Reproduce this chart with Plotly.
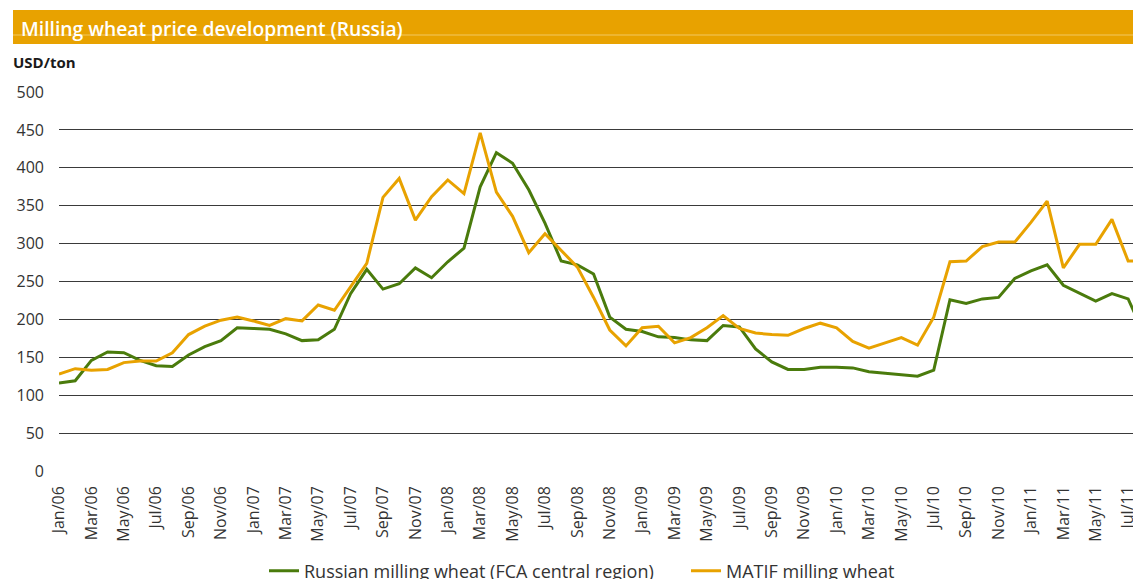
import plotly.graph_objects as go

months = ["Jan/06","Feb/06","Mar/06","Apr/06","May/06","Jun/06","Jul/06","Aug/06","Sep/06","Oct/06","Nov/06","Dec/06",
          "Jan/07","Feb/07","Mar/07","Apr/07","May/07","Jun/07","Jul/07","Aug/07","Sep/07","Oct/07","Nov/07","Dec/07",
          "Jan/08","Feb/08","Mar/08","Apr/08","May/08","Jun/08","Jul/08","Aug/08","Sep/08","Oct/08","Nov/08","Dec/08",
          "Jan/09","Feb/09","Mar/09","Apr/09","May/09","Jun/09","Jul/09","Aug/09","Sep/09","Oct/09","Nov/09","Dec/09",
          "Jan/10","Feb/10","Mar/10","Apr/10","May/10","Jun/10","Jul/10","Aug/10","Sep/10","Oct/10","Nov/10","Dec/10",
          "Jan/11","Feb/11","Mar/11","Apr/11","May/11","Jun/11","Jul/11","Aug/11"]

russian = [116,119,146,157,156,146,139,138,153,164,172,189,
           188,187,181,172,173,187,234,266,240,247,268,255,
           276,294,375,420,406,371,327,277,272,260,203,187,
           184,177,176,173,172,192,190,161,144,134,134,137,
           137,136,131,129,127,125,133,226,221,227,229,254,
           264,272,245,234,224,234,227,180]

matif = [128,135,133,134,143,145,145,156,180,191,199,203,
         198,192,201,198,219,212,243,274,361,386,331,362,
         384,366,446,368,336,288,313,291,269,229,186,165,
         189,191,169,176,189,205,188,182,180,179,188,195,
         189,171,162,169,176,166,203,276,277,296,302,302,
         328,356,268,299,299,332,277,277]

tick_labels = months[0:67:2]

y_ticks = [0, 50, 100, 150, 200, 250, 300, 350, 400, 450, 500]

GREEN = "#4a7b0c"
ORANGE = "#e8a200"
FONT = "Open Sans"

fig = go.Figure()
fig.add_trace(go.Scatter(x=months, y=russian, mode="lines",
                         name="Russian milling wheat (FCA central region)",
                         line=dict(color=GREEN, width=3)))
fig.add_trace(go.Scatter(x=months, y=matif, mode="lines",
                         name="MATIF milling wheat",
                         line=dict(color=ORANGE, width=3)))

W, H = 1133, 579
L, R, T, B = 59, 0, 92, 108
pw, ph = W - L - R, H - T - B

def px(x):
    return (x - L) / pw

def py(y):
    return (H - B - y) / ph

fig.update_layout(
    width=W, height=H,
    margin=dict(l=L, r=R, t=T, b=B, pad=0, autoexpand=False),
    paper_bgcolor="white", plot_bgcolor="white",
    font=dict(family=FONT, size=16, color="#333333"),
    showlegend=True,
    legend=dict(orientation="h", x=px(264), xanchor="left", y=py(571), yanchor="middle",
                font=dict(family=FONT, size=18, color="#333333"),
                itemwidth=30, entrywidth=377, entrywidthmode="pixels",
                tracegroupgap=0, bgcolor="rgba(0,0,0,0)"),
    xaxis=dict(type="category", categoryorder="array", categoryarray=months,
               range=[0, 66.3], tickmode="array", tickvals=tick_labels, ticktext=tick_labels,
               tickangle=-90, showgrid=False, zeroline=False, showline=False, automargin=False,
               ticks="", ticklabelstandoff=11,
               tickfont=dict(family=FONT, size=16, color="#333333")),
    yaxis=dict(range=[0, 500], tickmode="array", tickvals=y_ticks, automargin=False,
               showgrid=True, gridcolor="#3a3a3a", gridwidth=1.2, zeroline=False,
               showline=False, ticks="", ticklabelstandoff=14,
               tickfont=dict(family=FONT, size=16, color="#333333")),
    shapes=[
        dict(type="rect", xref="paper", yref="paper",
             x0=px(13), x1=px(1140), y0=py(44), y1=py(10),
             fillcolor=ORANGE, line=dict(width=0), layer="below"),
        dict(type="line", xref="paper", yref="paper",
             x0=px(13), x1=px(1140), y0=py(35), y1=py(35),
             line=dict(color="#f2c860", width=1)),
    ],
    annotations=[
        dict(text="Milling wheat price development (Russia)", xref="paper", yref="paper",
             x=px(19), y=py(28), xanchor="left", yanchor="middle", showarrow=False,
             font=dict(family=FONT, size=19.3, color="white", weight=600)),
        dict(text="<b>USD/ton</b>", xref="paper", yref="paper",
             x=px(11), y=py(62), xanchor="left", yanchor="middle", showarrow=False,
             font=dict(family=FONT, size=15, color="#1a1a1a")),
    ],
)

fig.write_html("out.html", config={"displayModeBar": False},
               post_script="document.body.style.margin='0';document.body.style.overflow='hidden';")
